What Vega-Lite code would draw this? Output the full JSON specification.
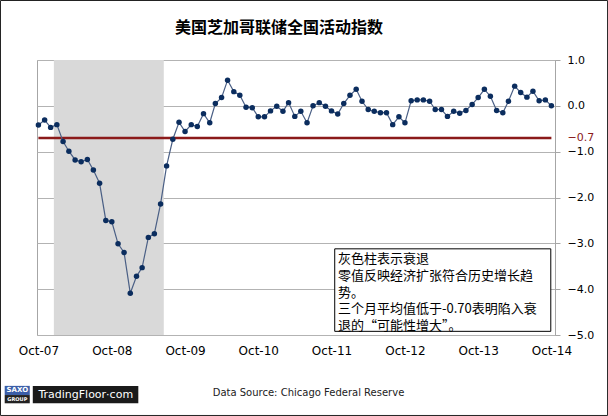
{
  "$schema": "https://vega.github.io/schema/vega-lite/v6.json",
  "autosize": {"type": "none"},
  "padding": {"left": 37, "top": 60, "right": 53, "bottom": 81},
  "width": 518,
  "height": 275,
  "background": "white",
  "title": {
    "text": "美国芝加哥联储全国活动指数",
    "font": "Noto Sans CJK SC",
    "fontSize": 16,
    "fontWeight": "bold",
    "color": "#000000",
    "offset": -36,
    "dx": -17
  },
  "datasets": {
    "cfnai": [
      {"date": "2007/10/01", "value": -0.42},
      {"date": "2007/11/01", "value": -0.31},
      {"date": "2007/12/01", "value": -0.47},
      {"date": "2008/01/01", "value": -0.41},
      {"date": "2008/02/01", "value": -0.78},
      {"date": "2008/03/01", "value": -0.99},
      {"date": "2008/04/01", "value": -1.18},
      {"date": "2008/05/01", "value": -1.22},
      {"date": "2008/06/01", "value": -1.17},
      {"date": "2008/07/01", "value": -1.40},
      {"date": "2008/08/01", "value": -1.69},
      {"date": "2008/09/01", "value": -2.50},
      {"date": "2008/10/01", "value": -2.53},
      {"date": "2008/11/01", "value": -3.01},
      {"date": "2008/12/01", "value": -3.20},
      {"date": "2009/01/01", "value": -4.09},
      {"date": "2009/02/01", "value": -3.72},
      {"date": "2009/03/01", "value": -3.53},
      {"date": "2009/04/01", "value": -2.87},
      {"date": "2009/05/01", "value": -2.79},
      {"date": "2009/06/01", "value": -2.14},
      {"date": "2009/07/01", "value": -1.31},
      {"date": "2009/08/01", "value": -0.73},
      {"date": "2009/09/01", "value": -0.36},
      {"date": "2009/10/01", "value": -0.56},
      {"date": "2009/11/01", "value": -0.41},
      {"date": "2009/12/01", "value": -0.45},
      {"date": "2010/01/01", "value": -0.17},
      {"date": "2010/02/01", "value": -0.37},
      {"date": "2010/03/01", "value": 0.05},
      {"date": "2010/04/01", "value": 0.18},
      {"date": "2010/05/01", "value": 0.56},
      {"date": "2010/06/01", "value": 0.31},
      {"date": "2010/07/01", "value": 0.23},
      {"date": "2010/08/01", "value": -0.03},
      {"date": "2010/09/01", "value": -0.04},
      {"date": "2010/10/01", "value": -0.24},
      {"date": "2010/11/01", "value": -0.24},
      {"date": "2010/12/01", "value": -0.11},
      {"date": "2011/01/01", "value": -0.01},
      {"date": "2011/02/01", "value": -0.12},
      {"date": "2011/03/01", "value": 0.07},
      {"date": "2011/04/01", "value": -0.23},
      {"date": "2011/05/01", "value": -0.12},
      {"date": "2011/06/01", "value": -0.37},
      {"date": "2011/07/01", "value": 0.00},
      {"date": "2011/08/01", "value": 0.07},
      {"date": "2011/09/01", "value": -0.01},
      {"date": "2011/10/01", "value": -0.11},
      {"date": "2011/11/01", "value": -0.18},
      {"date": "2011/12/01", "value": 0.05},
      {"date": "2012/01/01", "value": 0.23},
      {"date": "2012/02/01", "value": 0.36},
      {"date": "2012/03/01", "value": 0.10},
      {"date": "2012/04/01", "value": -0.08},
      {"date": "2012/05/01", "value": -0.12},
      {"date": "2012/06/01", "value": -0.15},
      {"date": "2012/07/01", "value": -0.15},
      {"date": "2012/08/01", "value": -0.41},
      {"date": "2012/09/01", "value": -0.24},
      {"date": "2012/10/01", "value": -0.37},
      {"date": "2012/11/01", "value": 0.11},
      {"date": "2012/12/01", "value": 0.13},
      {"date": "2013/01/01", "value": 0.13},
      {"date": "2013/02/01", "value": 0.10},
      {"date": "2013/03/01", "value": -0.08},
      {"date": "2013/04/01", "value": -0.08},
      {"date": "2013/05/01", "value": -0.23},
      {"date": "2013/06/01", "value": -0.12},
      {"date": "2013/07/01", "value": -0.16},
      {"date": "2013/08/01", "value": -0.10},
      {"date": "2013/09/01", "value": 0.03},
      {"date": "2013/10/01", "value": 0.18},
      {"date": "2013/11/01", "value": 0.36},
      {"date": "2013/12/01", "value": 0.21},
      {"date": "2014/01/01", "value": -0.10},
      {"date": "2014/02/01", "value": -0.15},
      {"date": "2014/03/01", "value": 0.10},
      {"date": "2014/04/01", "value": 0.43},
      {"date": "2014/05/01", "value": 0.29},
      {"date": "2014/06/01", "value": 0.19},
      {"date": "2014/07/01", "value": 0.32},
      {"date": "2014/08/01", "value": 0.11},
      {"date": "2014/09/01", "value": 0.13},
      {"date": "2014/10/01", "value": 0.00}
    ],
    "recession": [
      {"start": "2007/12/17", "end": "2009/06/17"}
    ]
  },
  "encoding": {
    "x": {
      "type": "temporal",
      "scale": {
        "domain": [
          {"year": 2007, "month": 9, "date": 24},
          {"year": 2014, "month": 10, "date": 19}
        ]
      },
      "axis": {
        "title": "Data Source: Chicago Federal Reserve",
        "titleFont": "DejaVu Sans",
        "titleFontSize": 10,
        "titleFontWeight": "normal",
        "titleColor": "#222222",
        "titlePadding": 31,
        "titleX": 271,
        "values": [
          {"year": 2007, "month": 10, "date": 1},
          {"year": 2008, "month": 10, "date": 1},
          {"year": 2009, "month": 10, "date": 1},
          {"year": 2010, "month": 10, "date": 1},
          {"year": 2011, "month": 10, "date": 1},
          {"year": 2012, "month": 10, "date": 1},
          {"year": 2013, "month": 10, "date": 1},
          {"year": 2014, "month": 10, "date": 1}
        ],
        "format": "%b-%y",
        "labelFont": "DejaVu Sans",
        "labelFontSize": 12,
        "labelColor": "#000000",
        "labelPadding": 10,
        "labelOverlap": false,
        "labelFlush": false,
        "ticks": false,
        "domain": false,
        "grid": false
      }
    },
    "y": {
      "type": "quantitative",
      "scale": {"domain": [-5, 1], "nice": false},
      "axis": {
        "orient": "right",
        "title": null,
        "values": [-5, -4, -3, -2, -1, -0.7, 0, 1],
        "format": ".1f",
        "labelFont": "DejaVu Sans",
        "labelFontSize": 11,
        "labelColor": {"condition": {"test": "datum.value === -0.7", "value": "#8b1a1a"}, "value": "#000000"},
        "labelPadding": 7,
        "labelOverlap": false,
        "labelFlush": false,
        "tickSize": 5,
        "tickColor": {"condition": {"test": "datum.value === -0.7", "value": "transparent"}, "value": "#a6a6a6"},
        "domainColor": "#a6a6a6",
        "grid": true,
        "gridColor": {"condition": {"test": "datum.value === -0.7", "value": "transparent"}, "value": "#b3b3b3"}
      }
    }
  },
  "layer": [
    {
      "data": {"name": "recession"},
      "mark": {"type": "rect", "color": "#d9d9d9"},
      "encoding": {
        "x": {"field": "start"},
        "x2": {"field": "end"},
        "y": {"datum": 1},
        "y2": {"datum": -5}
      }
    },
    {
      "data": {"values": [{}]},
      "mark": {"type": "rect", "fill": "#ffffff", "stroke": "#000000", "strokeWidth": 1},
      "encoding": {
        "x": {"datum": {"year": 2011, "month": 10, "date": 17}},
        "x2": {"datum": {"year": 2014, "month": 9, "date": 28}},
        "y": {"datum": -3.12},
        "y2": {"datum": -4.92}
      }
    },
    {
      "data": {"values": [{}]},
      "mark": {
        "type": "text",
        "clip": true,
        "align": "left",
        "baseline": "top",
        "font": "Noto Sans CJK SC",
        "fontSize": 13,
        "lineHeight": 16.6,
        "color": "#000000"
      },
      "encoding": {
        "x": {"datum": {"year": 2011, "month": 11, "date": 2}},
        "y": {"datum": -3.22},
        "text": {"value": ["灰色柱表示衰退", "零值反映经济扩张符合历史增长趋", "势。", "三个月平均值低于-0.70表明陷入衰", "退的“可能性增大”。"]}
      }
    },
    {
      "data": {"values": [{}]},
      "mark": {"type": "rule", "color": "#8b1a1a", "strokeWidth": 2.5},
      "encoding": {
        "x": {"datum": {"year": 2007, "month": 10, "date": 1}},
        "x2": {"datum": {"year": 2014, "month": 10, "date": 1}},
        "y": {"datum": -0.7}
      }
    },
    {
      "data": {"name": "cfnai"},
      "mark": {
        "type": "line",
        "color": "#4a5f85",
        "strokeWidth": 1.2,
        "point": {"filled": true, "color": "#0b2d5e", "size": 30, "opacity": 1}
      },
      "encoding": {
        "x": {"field": "date"},
        "y": {"field": "value"}
      }
    },
    {
      "data": {"values": [{}]},
      "mark": {"type": "rect", "fill": "#1a1a1a"},
      "encoding": {
        "x": {"datum": {"year": 2007, "month": 9, "date": 3}},
        "x2": {"datum": {"year": 2009, "month": 2, "date": 10}},
        "y": {"datum": -6.11},
        "y2": {"datum": -6.49}
      }
    },
    {
      "data": {"values": [{}]},
      "mark": {"type": "text", "color": "#ffffff", "font": "DejaVu Sans", "fontSize": 11, "align": "center", "baseline": "middle"},
      "encoding": {
        "x": {"datum": {"year": 2008, "month": 5, "date": 24}},
        "y": {"datum": -6.3},
        "text": {"value": "TradingFloor·com"}
      }
    },
    {
      "data": {"values": [{}]},
      "mark": {"type": "rect", "fill": "#3b5ea8"},
      "encoding": {
        "x": {"datum": {"year": 2007, "month": 4, "date": 16}},
        "x2": {"datum": {"year": 2007, "month": 8, "date": 19}},
        "y": {"datum": -6.11},
        "y2": {"datum": -6.31}
      }
    },
    {
      "data": {"values": [{}]},
      "mark": {"type": "rect", "fill": "#222222"},
      "encoding": {
        "x": {"datum": {"year": 2007, "month": 4, "date": 16}},
        "x2": {"datum": {"year": 2007, "month": 8, "date": 19}},
        "y": {"datum": -6.31},
        "y2": {"datum": -6.49}
      }
    },
    {
      "data": {"values": [{}]},
      "mark": {"type": "text", "color": "#ffffff", "font": "DejaVu Sans", "fontSize": 7, "fontWeight": "bold", "align": "center", "baseline": "middle"},
      "encoding": {
        "x": {"datum": {"year": 2007, "month": 6, "date": 18}},
        "y": {"datum": -6.21},
        "text": {"value": "SAXO"}
      }
    },
    {
      "data": {"values": [{}]},
      "mark": {"type": "text", "color": "#ffffff", "font": "DejaVu Sans", "fontSize": 5, "fontWeight": "bold", "align": "center", "baseline": "middle"},
      "encoding": {
        "x": {"datum": {"year": 2007, "month": 6, "date": 18}},
        "y": {"datum": -6.4},
        "text": {"value": "GROUP"}
      }
    },
    {
      "data": {"values": [{}]},
      "mark": {"type": "rect", "fill": null, "stroke": "#222222", "strokeWidth": 1},
      "encoding": {
        "x": {"datum": {"year": 2007, "month": 3, "date": 26}},
        "x2": {"datum": {"year": 2015, "month": 7, "date": 8}},
        "y": {"datum": 2.298},
        "y2": {"datum": -6.756}
      }
    }
  ],
  "config": {
    "view": {"stroke": "#a6a6a6", "strokeWidth": 1}
  }
}
